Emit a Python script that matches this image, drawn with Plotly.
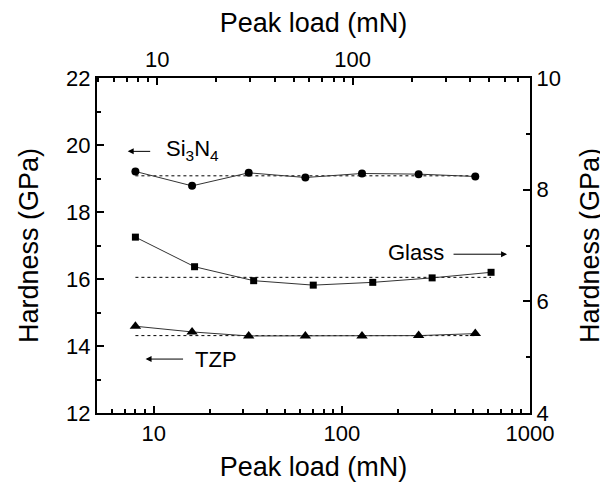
import numpy as np
import plotly.graph_objects as go

# Data
si_load = [8, 16, 32, 64, 128, 256, 512]
si_hard = [19.21, 18.78, 19.17, 19.03, 19.15, 19.13, 19.06]
si_mean = 19.08

glass_load = [8, 16.5, 34, 70.5, 146, 302, 621]
glass_hard = [7.15, 6.62, 6.37, 6.29, 6.34, 6.42, 6.52]
glass_mean = 6.43

tzp_load = [8, 16, 32, 64, 128, 256, 512]
tzp_hard = [14.59, 14.42, 14.30, 14.30, 14.30, 14.31, 14.37]
tzp_mean = 14.31

bottom_ticks = [10, 100, 1000]
top_ticks = [10, 100]

FONT = "Liberation Sans, Arial, sans-serif"
line_style = dict(color="#333333", width=1)

fig = go.Figure()

# mean dotted lines
fig.add_trace(go.Scatter(x=[si_load[0], si_load[-1]], y=[si_mean, si_mean], mode="lines",
                         line=dict(color="black", width=1, dash="dot"), showlegend=False))
fig.add_trace(go.Scatter(x=[tzp_load[0], tzp_load[-1]], y=[tzp_mean, tzp_mean], mode="lines",
                         line=dict(color="black", width=1, dash="dot"), showlegend=False))
fig.add_trace(go.Scatter(x=[glass_load[0], glass_load[-1]], y=[glass_mean, glass_mean], mode="lines",
                         line=dict(color="black", width=1, dash="dot"), showlegend=False,
                         yaxis="y2"))

fig.add_trace(go.Scatter(x=si_load, y=si_hard, mode="lines+markers", line=line_style,
                         marker=dict(symbol="circle", size=8, color="black"), showlegend=False))
fig.add_trace(go.Scatter(x=tzp_load, y=tzp_hard, mode="lines+markers", line=line_style,
                         marker=dict(symbol="triangle-up", size=10, color="black"), showlegend=False))
fig.add_trace(go.Scatter(x=glass_load, y=glass_hard, mode="lines+markers", line=line_style,
                         marker=dict(symbol="square", size=7, color="black"), showlegend=False,
                         yaxis="y2"))
# invisible trace to anchor the top axis
fig.add_trace(go.Scatter(x=[10], y=[12], mode="markers", marker=dict(opacity=0),
                         xaxis="x2", showlegend=False, hoverinfo="skip"))

def decade_minors(lo, hi):
    vals = []
    for d in [1, 10, 100]:
        for m in range(2, 10):
            v = m * d
            if lo <= v <= hi:
                vals.append(v)
    return vals

axis_common = dict(showline=True, linecolor="black", linewidth=2, ticks="inside",
                   ticklen=7, tickwidth=1.5, tickcolor="black", showgrid=False, zeroline=False,
                   automargin=False,
                   tickfont=dict(family=FONT, size=22, color="black"))
title_font = dict(family=FONT, size=27, color="black")

fig.update_layout(
    width=600, height=481,
    margin=dict(l=89, r=77.5, t=69.5, b=76),
    paper_bgcolor="white", plot_bgcolor="white",
    font=dict(family=FONT, color="black"),
    xaxis=dict(type="log", range=[np.log10(5), 3], tickvals=bottom_ticks,
               ticktext=[str(v) for v in bottom_ticks],
               minor=dict(tickvals=decade_minors(5, 1000), ticks="inside", ticklen=4,
                          tickwidth=1.5, tickcolor="black"),
               title=dict(text="Peak load (mN)", font=title_font, standoff=12),
               **axis_common),
    xaxis2=dict(type="log", range=[0.692, 2.907], overlaying="x", side="top", anchor="y",
                tickvals=top_ticks, ticktext=[str(v) for v in top_ticks],
                minor=dict(tickvals=decade_minors(4.9, 807), ticks="inside", ticklen=4,
                           tickwidth=1.5, tickcolor="black"),
                title=dict(text="Peak load (mN)", font=title_font, standoff=14),
                **axis_common),
    yaxis=dict(range=[12, 22], dtick=2, tick0=12,
               minor=dict(dtick=1, ticks="inside", ticklen=4, tickwidth=1.5, tickcolor="black"),
               title=dict(text="Hardness (GPa)", font=title_font, standoff=20),
               **axis_common),
    yaxis2=dict(range=[4, 10], dtick=2, tick0=4, overlaying="y", side="right", anchor="x",
                minor=dict(dtick=1, ticks="inside", ticklen=4, tickwidth=1.5, tickcolor="black"),
                title=dict(text="Hardness (GPa)", font=title_font, standoff=20),
                **axis_common),
)

ann_font = dict(family=FONT, size=22, color="black")
annotations = [
    # Si3N4 label + arrow
    dict(x=np.log10(11.4), y=19.84, xref="x", yref="y", text="Si<sub>3</sub>N<sub>4</sub>",
         showarrow=False, xanchor="left", yanchor="middle", font=ann_font),
    dict(x=np.log10(7.28), y=19.81, xref="x", yref="y", text="", showarrow=True,
         ax=24, ay=0, arrowhead=2, arrowsize=1.2, arrowwidth=1, arrowcolor="black"),
    # Glass
    dict(x=2.234, y=16.80, xref="x", yref="y", text="Glass",
         showarrow=False, xanchor="left", yanchor="middle", font=ann_font),
    dict(x=2.878, y=16.74, xref="x", yref="y", text="", showarrow=True,
         ax=-55, ay=0, arrowhead=2, arrowsize=1.2, arrowwidth=1, arrowcolor="black"),
    # TZP
    dict(x=1.207, y=13.61, xref="x", yref="y", text="TZP",
         showarrow=False, xanchor="left", yanchor="middle", font=ann_font),
    dict(x=0.957, y=13.61, xref="x", yref="y", text="", showarrow=True,
         ax=39, ay=0, arrowhead=2, arrowsize=1.2, arrowwidth=1, arrowcolor="black"),
]
fig.update_layout(annotations=annotations)

fig.write_html("out.html")
